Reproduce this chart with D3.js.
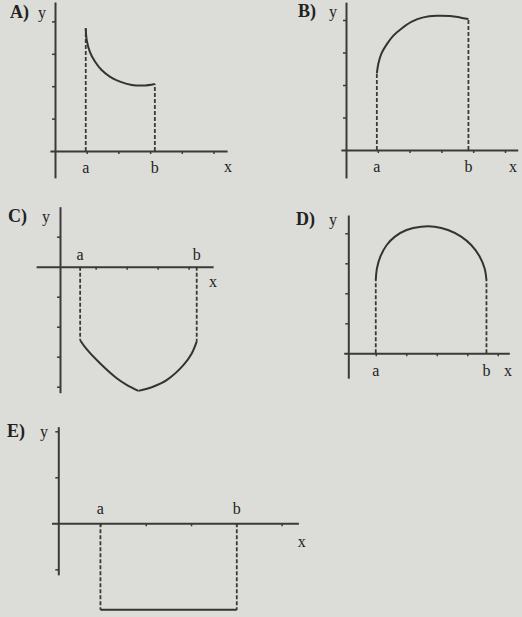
<!DOCTYPE html>
<html lang="en">
<head>
  <meta charset="UTF-8">
  <title>Graphs A-E</title>
  <script src="https://d3js.org/d3.v7.min.js"></script>
  <style>
    body { margin: 0; background: #dcdcd8; }
    text { font-family: "Liberation Serif", "DejaVu Serif", serif; fill: #222; }
    .axis path, .axis line { stroke: #3a3a3a; }
    .axis path { stroke-width: 2; }
    .axis line { stroke-width: 1.5; }
  </style>
</head>
<body>
  <div id="chart"></div>
  <script>
    // curves, in grid units
    const aX = [0.97, 1.0, 1.1, 1.26, 1.47, 1.74, 2.05, 2.42, 2.79, 3.15];
    const aY = [3.79, 3.43, 3.06, 2.76, 2.5, 2.29, 2.14, 2.04, 2.02, 2.07];
    const bX = [0.97, 1.02, 1.12, 1.28, 1.49, 1.75, 2.07, 2.43, 2.85, 3.27, 3.58, 3.85];
    const bY = [2.36, 2.67, 2.98, 3.25, 3.52, 3.74, 3.95, 4.08, 4.13, 4.12, 4.08, 4.03];
    const cX = [0.65, 0.86, 1.29, 1.83, 2.15, 2.53, 3.0, 3.44, 3.98, 4.25, 4.41];
    const cY = [-2.45, -2.75, -3.22, -3.72, -3.94, -4.14, -4.0, -3.78, -3.28, -2.89, -2.5];
    const dX = [0.9, 0.94, 1.05, 1.26, 1.53, 1.91, 2.39, 2.83, 3.27, 3.70, 4.03, 4.31, 4.47, 4.53];
    const dY = [2.44, 2.83, 3.22, 3.61, 3.89, 4.11, 4.22, 4.22, 4.11, 3.89, 3.61, 3.22, 2.83, 2.44];
    const eX = [0.93, 3.94];
    const eY = [-1.88, -1.88];

    const names = ["A)", "B)", "C)", "D)", "E)"];
    const xTicks = [[1, 2, 3, 4, 5], [1, 2, 3, 4, 5], [1.15, 2.15, 3.15, 4.15], [0.9, 1.9, 2.9, 3.9, 4.9], [0.93, 1.93, 2.93, 3.93, 4.93]];
    const yTicks = [[1, 2, 3, 4], [1, 2, 3, 4], [1, -1, -2, -3, -4], [1, 2, 3, 4], [2, 1, -1]];

    // panel placement (pixels) - origin, unit sizes, axis extents in units
    const panels = [
      { xs: aX, ys: aY, ox: 55, oy: 151, ux: 31.7, uy: 32.4, xe: [-0.16, 5.43], ye: [-0.83, 4.6], abDy: 22, lx: 10, ly: 18, yx: 38, xl: [228, 172], sharp: false },
      { xs: bX, ys: bY, ox: 346, oy: 150, ux: 31.8, uy: 32.5, xe: [-0.16, 5.4], ye: [-0.86, 4.55], abDy: 22, lx: 298, ly: 17, yx: 329, xl: [513, 172], sharp: false },
      { xs: cX, ys: cY, ox: 60, oy: 266.7, ux: 31, uy: 30, xe: [-0.77, 4.94], ye: [-4.2, 2.0], abDy: -7, lx: 8, ly: 222, yx: 42, xl: [213, 287], sharp: true },
      { xs: dX, ys: dY, ox: 348.3, oy: 353.3, ux: 30.5, uy: 30, xe: [-0.15, 5.28], ye: [-0.83, 4.61], abDy: 23, lx: 296, ly: 225, yx: 329, xl: [508, 376], sharp: false },
      { xs: eX, ys: eY, ox: 58.3, oy: 523.3, ux: 45.3, uy: 46, xe: [-0.15, 5.3], ye: [-1.12, 2.1], abDy: -9, lx: 7, ly: 437, yx: 40, xl: [301.7, 547], sharp: false }
    ];

    const svg = d3.select("#chart").append("svg")
      .attr("width", 522)
      .attr("height", 617);

    panels.forEach((p, i) => {
      const x = d3.scaleLinear().domain(p.xe).range([p.ox + p.xe[0] * p.ux, p.ox + p.xe[1] * p.ux]);
      const y = d3.scaleLinear().domain(p.ye).range([p.oy - p.ye[0] * p.uy, p.oy - p.ye[1] * p.uy]);
      const g = svg.append("g");

      g.append("g").attr("class", "axis")
        .attr("transform", `translate(0,${y(0)})`)
        .call(d3.axisBottom(x).tickValues(xTicks[i]).tickSize(3).tickSizeOuter(0).tickFormat(""));
      g.append("g").attr("class", "axis")
        .attr("transform", `translate(${x(0)},0)`)
        .call(d3.axisLeft(y).tickValues(yTicks[i]).tickSize(3).tickSizeOuter(0).tickFormat(""));

      const pts = p.xs.map((v, k) => [v, p.ys[k]]);
      const first = pts[0], last = pts[pts.length - 1];

      // dashed drops from the ends of the graph to the x axis
      [first, last].forEach(q => {
        g.append("line")
          .attr("x1", x(q[0])).attr("x2", x(q[0]))
          .attr("y1", y(0)).attr("y2", y(q[1]))
          .attr("stroke", "#3a3a3a").attr("stroke-width", 1.8)
          .attr("stroke-dasharray", "4,2");
      });

      const line = d3.line().x(d => x(d[0])).y(d => y(d[1])).curve(d3.curveCatmullRom);
      let parts = [pts];
      if (p.sharp) {
        const m = d3.minIndex(p.ys);
        parts = [pts.slice(0, m + 1), pts.slice(m)];
      }
      parts.forEach(seg => {
        g.append("path").attr("d", line(seg))
          .attr("fill", "none").attr("stroke", "#333").attr("stroke-width", 2);
      });

      g.append("text").attr("x", p.lx).attr("y", p.ly)
        .attr("font-size", 18).attr("font-weight", "bold").text(names[i]);
      g.append("text").attr("x", p.yx).attr("y", p.ly)
        .attr("font-size", 16).text("y");
      [["a", first], ["b", last]].forEach(([t, q]) => {
        g.append("text").attr("x", x(q[0])).attr("y", y(0) + p.abDy)
          .attr("text-anchor", "middle").attr("font-size", 16).text(t);
      });
      g.append("text").attr("x", p.xl[0]).attr("y", p.xl[1])
        .attr("text-anchor", "middle").attr("font-size", 16).text("x");
    });
  </script>
</body>
</html>
